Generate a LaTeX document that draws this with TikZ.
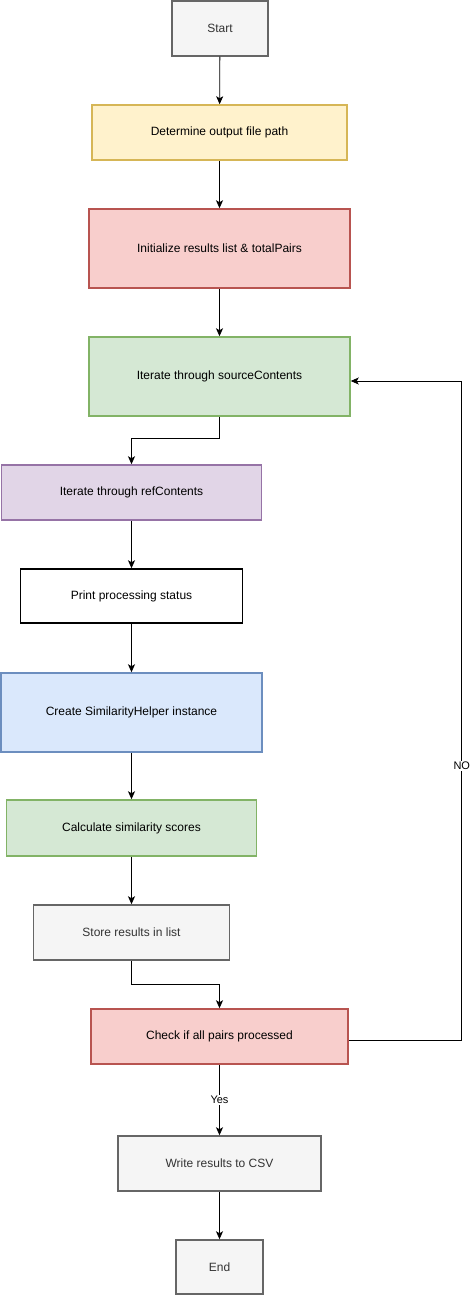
\documentclass[tikz,border=0pt]{standalone}
\usepackage{fontspec}
\setmainfont{Liberation Sans}
\usetikzlibrary{arrows.meta}
\definecolor{grayfill}{HTML}{F5F5F5}
\definecolor{grayline}{HTML}{666666}
\definecolor{graytext}{HTML}{333333}
\definecolor{yellowfill}{HTML}{FFF2CC}
\definecolor{yellowline}{HTML}{D6B656}
\definecolor{redfill}{HTML}{F8CECC}
\definecolor{redline}{HTML}{B85450}
\definecolor{greenfill}{HTML}{D5E8D4}
\definecolor{greenline}{HTML}{82B366}
\definecolor{purplefill}{HTML}{E1D5E7}
\definecolor{purpleline}{HTML}{9673A6}
\definecolor{bluefill}{HTML}{DAE8FC}
\definecolor{blueline}{HTML}{6C8EBF}
\tikzset{
  box/.style={draw, rectangle, line width=1.5pt, inner sep=2pt,
    font=\fontsize{12}{14}\selectfont},
  graybox/.style={box, fill=grayfill, draw=grayline, text=graytext},
  flow/.style={-{Stealth[length=8pt,width=7pt,inset=2pt]}, line width=0.8pt},
  lbl/.style={fill=white, inner sep=1pt, font=\fontsize{11}{13}\selectfont}
}
\begin{document}
\begin{tikzpicture}[x=1pt,y=-1pt]
	\useasboundingbox (0,0) rectangle (470,1295);
	% main column
	\node[graybox, minimum width=96, minimum height=55]
	  (start) at (220,28.5) {Start};
	\node[box, fill=yellowfill, draw=yellowline, minimum width=255, minimum height=55]
	  (outpath) at (219.5,132.5) {Determine output file path};
	\node[box, fill=redfill, draw=redline, minimum width=261, minimum height=79]
	  (initres) at (219.5,248.5) {Initialize results list \& totalPairs};
	\node[box, fill=greenfill, draw=greenline, minimum width=261, minimum height=79]
	  (srcloop) at (219.5,376.5) {Iterate through sourceContents};
	% inner loop column
	\node[box, fill=purplefill, draw=purpleline, minimum width=260, minimum height=55]
	  (refloop) at (131.5,492.5) {Iterate through refContents};
	\node[box, fill=white, draw=black, minimum width=222, minimum height=54]
	  (status) at (131.5,596) {Print processing status};
	\node[box, fill=bluefill, draw=blueline, minimum width=261, minimum height=79]
	  (helper) at (131.5,712.5) {Create SimilarityHelper instance};
	\node[box, fill=greenfill, draw=greenline, minimum width=250, minimum height=56]
	  (scores) at (131.5,828) {Calculate similarity scores};
	\node[graybox, minimum width=196, minimum height=55]
	  (store) at (131.5,932.5) {Store results in list};
	% check and finish
	\node[box, fill=redfill, draw=redline, minimum width=257, minimum height=55]
	  (check) at (219.5,1036.5) {Check if all pairs processed};
	\node[graybox, minimum width=203, minimum height=55]
	  (csv) at (219.5,1163.5) {Write results to CSV};
	\node[graybox, minimum width=87, minimum height=54]
	  (finish) at (219.5,1267) {End};
	% connectors
	\draw[flow] (start) -- (outpath);
	\draw[flow] (outpath) -- (initres);
	\draw[flow] (initres) -- (srcloop);
	\draw[flow] (srcloop.south) -- ++(0,22) -| (refloop.north);
	\draw[flow] (refloop) -- (status);
	\draw[flow] (status) -- (helper);
	\draw[flow] (helper) -- (scores);
	\draw[flow] (scores) -- (store);
	\draw[flow] (store.south) -- ++(0,24) -| (check.north);
	\draw[flow] ([yshift=-3.5pt]check.east) -- ++(113,0)
	  |- node[lbl, pos=0.208]{NO} ([yshift=-4.5pt]srcloop.east);
	\draw[flow] (check) -- node[lbl]{Yes} (csv);
	\draw[flow] (csv) -- (finish);
\end{tikzpicture}
\end{document}
